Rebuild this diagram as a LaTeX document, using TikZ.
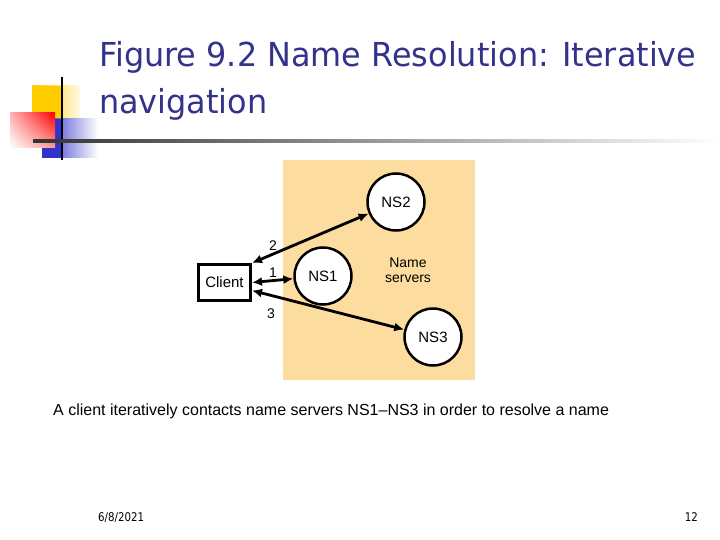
\documentclass[tikz,border=0pt]{standalone}
\usepackage{fontspec}
\setmainfont{Liberation Sans}
\newfontfamily\slidefont{DejaVu Sans}
\usetikzlibrary{positioning,arrows.meta,shadings}
\definecolor{titleblue}{RGB}{51,51,140}
\definecolor{paleorange}{RGB}{253,220,160}
\definecolor{logoyellow}{RGB}{255,204,0}
\definecolor{logoblue}{RGB}{51,51,204}

\begin{document}
\begin{tikzpicture}[x=1pt,y=-1pt,
    ns/.style={circle,draw,line width=2.5pt,fill=white,minimum size=57pt,inner sep=0pt,font=\fontsize{15}{15}\selectfont},
    client/.style={draw,line width=3pt,fill=white,minimum width=52pt,minimum height=36pt,inner sep=0pt,font=\fontsize{15}{15}\selectfont},
    link/.style={{Latex[length=10pt,width=9pt]}-{Latex[length=10pt,width=9pt]},line width=2.8pt},
    num/.style={font=\fontsize{14}{14}\selectfont,inner sep=0pt}]
    \useasboundingbox[fill=white] (0,0) rectangle (720,540);
    % logo squares
    \shade[left color=logoyellow,right color=logoyellow!10] (32,86) rectangle (80,128);
    \fill[logoyellow] (32,86) rectangle (62,128);
    \shade[left color=logoblue,right color=white] (42,119) rectangle (98,158);
    \fill[logoblue] (42,119) rectangle (62,158);
    \shade[upper right=red,upper left=red!30,lower left=white,lower right=red!40] (10,113) rectangle (55,148);
    \draw[line width=2pt] (62,77)--(62,160);
    \shade[left color=black!80,right color=white] (33,140) rectangle (720,142.5);
    % title
    \node[anchor=base west,inner sep=0,text=titleblue,font=\slidefont\fontsize{33}{33}\selectfont] (title1) at (99,67) {\scalebox{0.966}[1]{Figure 9.2 Name Resolution: Iterative}};
    \node[anchor=base west,inner sep=0,text=titleblue,font=\slidefont\fontsize{33}{33}\selectfont] (title2) at (99,114) {\scalebox{0.966}[1]{navigation}};
    % name servers
    \fill[paleorange] (283,160) rectangle (475,380);
    \node[ns] (ns2) at (396,202) {NS2};
    \node[ns] (ns1) at (323,276) {NS1};
    \node[ns] (ns3) at (433,337) {NS3};
    \node[align=center,font=\fontsize{14}{15}\selectfont] (names) at (408,270) {Name\\servers};
    \node[client] (cl) at (224.5,282.5) {Client};
    \draw[link] (cl.north east) -- (ns2);
    \draw[link] (cl.east) -- (ns1);
    \draw[link] ([yshift=-8pt]cl.east) -- (ns3);
    \node[num] (n2) at (273,246) {2};
    \node[num] (n1) at (273,273) {1};
    \node[num] (n3) at (271,314) {3};
    % caption and footer
    \node[anchor=base west,inner sep=0,font=\fontsize{16}{16}\selectfont] (caption) at (53,415) {A client iteratively contacts name servers NS1--NS3 in order to resolve a name};
    \node[anchor=base west,inner sep=0,font=\slidefont\fontsize{12}{12}\selectfont] (date) at (98,521) {\scalebox{0.85}[1]{6/8/2021}};
    \node[anchor=base east,inner sep=0,font=\slidefont\fontsize{12}{12}\selectfont] (page) at (698,521) {\scalebox{0.85}[1]{12}};
\end{tikzpicture}
\end{document}
